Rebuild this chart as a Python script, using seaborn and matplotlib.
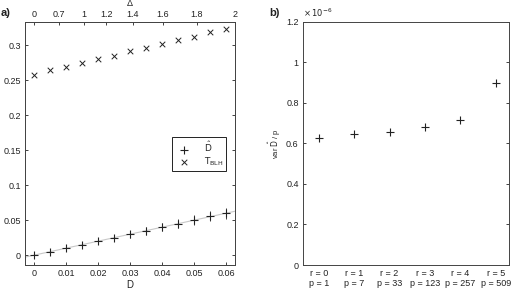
import numpy as np
import pandas as pd
import seaborn as sns
import matplotlib
matplotlib.use("Agg")
import matplotlib.pyplot as plt

# panel a) data
D = [0, 0.005, 0.01, 0.015, 0.02, 0.025, 0.03, 0.035, 0.04, 0.045, 0.05, 0.055, 0.06]
D_hat = [0.0, 0.005, 0.01, 0.015, 0.02, 0.025, 0.03, 0.035, 0.04, 0.045, 0.05, 0.056, 0.06]
D_err = [0.002, 0.0025, 0.003, 0.0035, 0.004, 0.0045, 0.005, 0.0055, 0.006, 0.0065, 0.007, 0.0075, 0.008]
T_blh = [0.258, 0.264, 0.269, 0.275, 0.280, 0.285, 0.291, 0.296, 0.302, 0.307, 0.312, 0.318, 0.323]
delta_ticks = [0, 0.7, 1, 1.2, 1.4, 1.6, 1.8, 2]
delta_scale = 0.0157  # D = scale * delta^2

# panel b) data
r_labels = ["r = 0\np = 1", "r = 1\np = 7", "r = 2\np = 33",
            "r = 3\np = 123", "r = 4\np = 257", "r = 5\np = 509"]
var_D = [0.628, 0.645, 0.655, 0.680, 0.716, 0.900]  # x 1e-6
var_ticks = [0, 0.2, 0.4, 0.6, 0.8, 1, 1.2]

sns.set_style("ticks")
plt.rcParams['font.family'] = ['Liberation Sans', 'DejaVu Sans']
plt.rcParams['mathtext.fontset'] = 'dejavusans'
fs = 6.5
ink = '#222222'

fig = plt.figure(figsize=(5.15, 2.9), dpi=100)
ax = fig.add_axes([0.0485, 0.0862, 0.408, 0.838])
bx = fig.add_axes([0.588, 0.0862, 0.4, 0.838])

# ---- a)
df = pd.DataFrame({'D': D, 'D_hat': D_hat, 'err': D_err, 'T': T_blh})
ax.axline((0, 0), slope=1, color='#c8c8c8', lw=0.8, zorder=1)
ax.vlines(df['D'], df['D_hat'] - df['err'], df['D_hat'] + df['err'], color=ink, lw=0.6, zorder=2)
sns.scatterplot(data=df, x='D', y='D_hat', marker='+', s=40, color=ink, linewidth=0.8,
                ax=ax, label=r'$\hat{\mathrm{D}}$', zorder=3)
sns.scatterplot(data=df, x='D', y='T', marker='x', s=16, color=ink, linewidth=0.7,
                ax=ax, label=r'$\mathrm{T_{BLH}}$', zorder=3)
ax.set_xlim(-0.0028, 0.0628)
ax.set_ylim(-0.014, 0.333)
ax.set_xticks(D[::2])
ax.set_xticklabels(['0', '0.01', '0.02', '0.03', '0.04', '0.05', '0.06'])
ax.set_yticks([0, 0.05, 0.1, 0.15, 0.2, 0.25, 0.3])
ax.set_yticklabels(['0', '0.05', '0.1', '0.15', '0.2', '0.25', '0.3'])
ax.set_xlabel('D', fontsize=fs + 0.5, color=ink, labelpad=1)
ax.set_ylabel('')
ax.tick_params(direction='in', labelsize=fs, colors=ink, length=2.5, width=0.6,
               right=True, pad=3)
leg = ax.legend(loc='upper right', bbox_to_anchor=(0.98, 0.545), fontsize=fs,
                frameon=True, fancybox=False, edgecolor=ink, framealpha=1,
                borderpad=0.3, handletextpad=1.2, labelspacing=0.1, handlelength=2)
leg.get_frame().set_linewidth(0.7)

top = ax.twiny()
top.set_xlim(ax.get_xlim())
top.set_xticks([delta_scale * d ** 2 for d in delta_ticks])
top.set_xticklabels([f'{d:g}' for d in delta_ticks])
top.set_xlabel('Δ', fontsize=fs, color=ink, labelpad=3)
top.tick_params(direction='in', labelsize=fs, colors=ink, length=2.5, width=0.6, pad=2)

for a in (ax, top):
    for s in a.spines.values():
        s.set_linewidth(0.7)
        s.set_color('#444444')

# ---- b)
dfb = pd.DataFrame({'pos': np.arange(1, len(var_D) + 1), 'var': var_D})
sns.scatterplot(data=dfb, x='pos', y='var', marker='+', s=40, color=ink, linewidth=0.8, ax=bx)
bx.set_xlim(0.548, 6.37)
bx.set_ylim(0, 1.2)
bx.set_xticks(dfb['pos'])
bx.set_xticklabels(r_labels, fontsize=fs - 0.5, linespacing=1.1)
bx.set_yticks(var_ticks)
bx.set_yticklabels([f'{v:g}' for v in var_ticks])
bx.text(0.0, 1.012, r'$\times\,10^{-6}$', transform=bx.transAxes, fontsize=fs - 0.5,
        color=ink, va='bottom')
bx.set_xlabel('')
bx.set_ylabel(r'var $\hat{\mathrm{D}}$ / p', fontsize=fs - 1, color=ink, labelpad=2)
bx.tick_params(direction='in', labelsize=fs, colors=ink, length=2.5, width=0.6,
               right=True, top=True, pad=3)
bx.tick_params(axis='x', length=0)
for s in bx.spines.values():
    s.set_linewidth(0.7)
    s.set_color('#444444')

fig.text(0.002, 0.945, 'a)', fontsize=8, fontweight='bold', color=ink, ha='left')
fig.text(0.523, 0.945, 'b)', fontsize=8, fontweight='bold', color=ink)

fig.savefig('out.png', dpi=100)
